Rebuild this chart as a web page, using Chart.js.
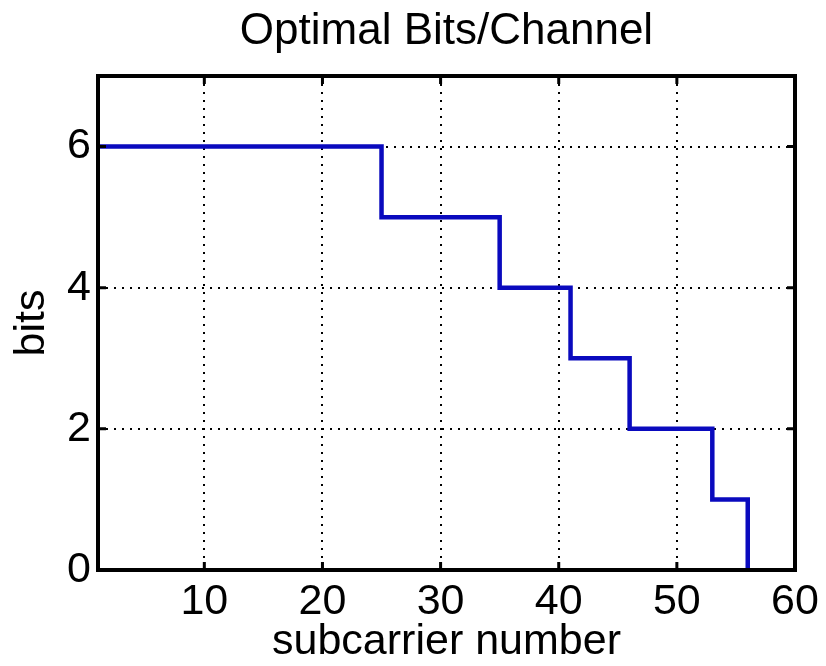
<!DOCTYPE html>
<html><head><meta charset="utf-8">
<script src="https://cdn.jsdelivr.net/npm/chart.js@4/dist/chart.umd.min.js"></script>
<style>html,body{margin:0;padding:0;background:#fff;} #wrap{width:826px;height:666px;}</style>
</head><body><div id="wrap"><canvas id="c" width="826" height="666"></canvas></div>
<script>
const titleText = 'Optimal Bits/Channel';
const xLabel = 'subcarrier number';
const yLabel = 'bits';
const subcarriers = [1,2,3,4,5,6,7,8,9,10,11,12,13,14,15,16,17,18,19,20,21,22,23,24,25,26,27,28,29,30,31,32,33,34,35,36,37,38,39,40,41,42,43,44,45,46,47,48,49,50,51,52,53,54,55,56];
const bits = [6,6,6,6,6,6,6,6,6,6,6,6,6,6,6,6,6,6,6,6,6,6,6,6,5,5,5,5,5,5,5,5,5,5,4,4,4,4,4,4,3,3,3,3,3,2,2,2,2,2,2,2,1,1,1,0];
const xTicks = [10,20,30,40,50,60];
const yTicks = [0,2,4,6];
const xRange = [1,60];
const yRange = [0,7];

const FAM = "'Liberation Sans', Arial, sans-serif";

const frame = {id:'frame', afterDatasetsDraw(chart){
  const {ctx, chartArea:a, scales:{x, y}} = chart;
  ctx.save();
  ctx.strokeStyle = '#000'; ctx.setLineDash([]); ctx.lineWidth = 3;
  ctx.beginPath();
  xTicks.forEach(v => { const p = x.getPixelForValue(v);
    ctx.moveTo(p, a.bottom); ctx.lineTo(p, a.bottom - 8);
    ctx.moveTo(p, a.top); ctx.lineTo(p, a.top + 8); });
  yTicks.forEach(v => { const p = y.getPixelForValue(v);
    ctx.moveTo(a.left, p); ctx.lineTo(a.left + 8, p);
    ctx.moveTo(a.right, p); ctx.lineTo(a.right - 8, p); });
  ctx.stroke();
  ctx.lineWidth = 4;
  ctx.strokeRect(a.left, a.top, a.right - a.left, a.bottom - a.top);
  ctx.restore();
}};

new Chart(document.getElementById('c'), {
  type: 'line',
  data: { datasets: [{
    data: subcarriers.map((x, i) => ({x: x, y: bits[i]})),
    borderColor: 'rgb(10,10,190)', borderWidth: 4.5, pointRadius: 0,
    stepped: 'before', fill: false, tension: 0
  }]},
  options: {
    responsive: false, animation: false, devicePixelRatio: 1,
    layout: { padding: { left: 0, right: 31, top: 0, bottom: 0 } },
    plugins: {
      legend: { display: false }, tooltip: { enabled: false },
      title: { display: true, text: titleText, color: '#000', fullSize: false,
        font: { family: FAM, size: 44, weight: 'normal', lineHeight: 1.2 },
        padding: { top: 5, bottom: 18.2 } }
    },
    scales: {
      x: { type: 'linear', min: xRange[0], max: xRange[1],
        afterBuildTicks: s => { s.ticks = xTicks.map(v => ({value: v})); },
        afterFit: s => { s.height = 96; },
        ticks: { color: '#000', font: { family: FAM, size: 43 }, padding: 6, maxRotation: 0, minRotation: 0, autoSkip: false },
        grid: { color: '#000', lineWidth: 2, drawTicks: false },
        border: { display: false, dash: [2, 6] },
        title: { display: true, text: xLabel, color: '#000', font: { family: FAM, size: 43, lineHeight: 1.1 }, padding: { top: 0, bottom: 0 } }
      },
      y: { type: 'linear', min: yRange[0], max: yRange[1],
        afterBuildTicks: s => { s.ticks = yTicks.map(v => ({value: v})); },
        afterFit: s => { s.width = 98; },
        ticks: { color: '#000', font: { family: FAM, size: 43 }, padding: 7, autoSkip: false },
        grid: { color: '#000', lineWidth: 2, drawTicks: false },
        border: { display: false, dash: [2, 6] },
        title: { display: true, text: yLabel, color: '#000', font: { family: FAM, size: 43, lineHeight: 1.1 }, padding: { top: 8.3, bottom: 0 } }
      }
    }
  },
  plugins: [frame]
});
</script>
</body></html>
